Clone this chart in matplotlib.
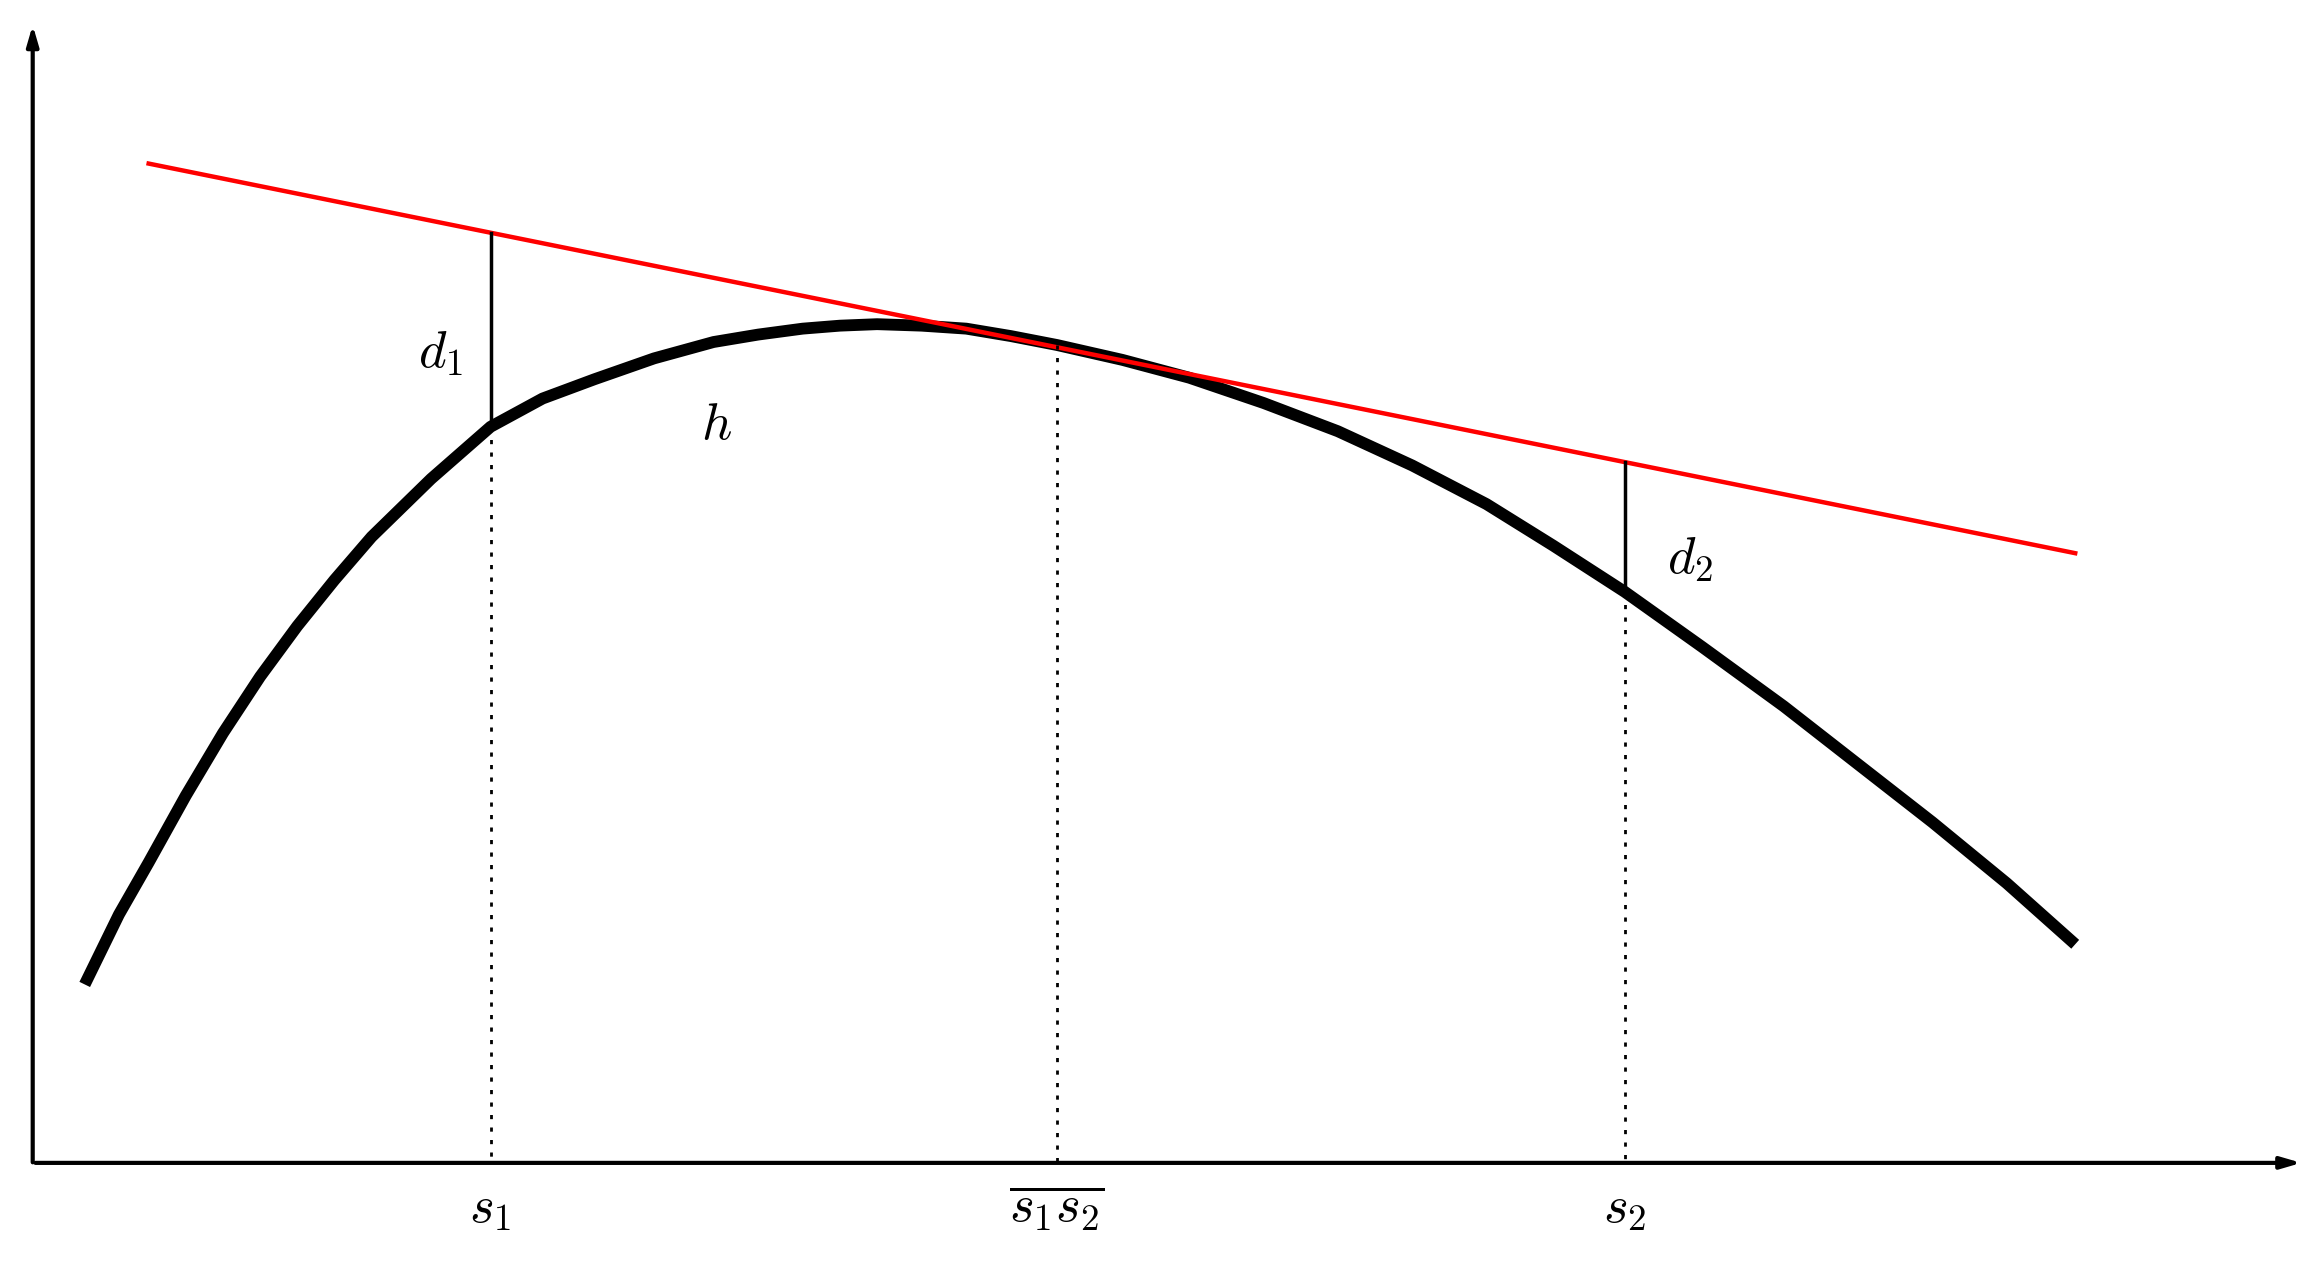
import matplotlib
matplotlib.use("Agg")
import matplotlib.pyplot as plt

plt.rcParams['mathtext.fontset'] = 'cm'

# curve h (image-pixel coordinates, y downward)
curve_x = [57, 80, 100, 125, 150, 175, 200, 225, 250, 290, 330, 365, 400, 440, 480, 510, 540, 565, 590, 620, 650, 680, 711, 755, 800, 850, 900, 950, 1000, 1045, 1093, 1145, 1200, 1250, 1300, 1350, 1396]
curve_y = [662, 615, 580, 535, 493, 455, 421, 390, 361, 322, 287, 268, 255, 241, 230, 225, 221, 219, 218, 219, 221, 226, 232, 242, 254, 271, 290, 313, 339, 367, 398, 435, 475, 514, 553, 594, 635]
# tangent line
tan_x = [100, 1396]
tan_y = [110, 372]
# points
s_x = [330, 711, 1093]
s_curve_y = [287, 232, 398]
s_labels = [r'$s_1$', r'$\overline{s_1 s_2}$', r'$s_2$']
d_x = [330, 1093]
d_top = [157, 311]
d_bot = [287, 398]
d_labels = [r'$d_1$', r'$d_2$']
d_label_pos = [(296, 237), (1137, 375)]

fig = plt.figure(figsize=(23.19, 12.64), dpi=100)
ax = fig.add_axes([0, 0, 1, 1])
ax.set_xlim(0, 1560)
ax.set_ylim(850, 0)
ax.axis('off')

ax0y = 782
ax.annotate('', xy=(1550, ax0y), xytext=(22, ax0y),
            arrowprops=dict(arrowstyle='-|>,head_length=1.2,head_width=0.35', lw=3, color='black'))
ax.annotate('', xy=(22, 15), xytext=(22, ax0y + 1.5),
            arrowprops=dict(arrowstyle='-|>,head_length=1.2,head_width=0.35', lw=3, color='black'))

ax.plot(curve_x, curve_y, color='black', lw=8.5, solid_capstyle='butt', solid_joinstyle='round')
ax.plot(tan_x, tan_y, color='#ff0000', lw=3.2)

for x, y in zip(s_x, s_curve_y):
    ax.plot([x, x], [y, ax0y], color='black', lw=2, linestyle=(0, (1.5, 3)))
for x, t, b in zip(d_x, d_top, d_bot):
    ax.plot([x, x], [t, b], color='black', lw=2.5)

for x, lab in zip(s_x, s_labels):
    ax.text(x, 812, lab, fontsize=38, ha='center', va='center')
for (x, y), lab in zip(d_label_pos, d_labels):
    ax.text(x, y, lab, fontsize=38, ha='center', va='center')
ax.text(482, 285, r'$h$', fontsize=38, ha='center', va='center')

fig.savefig('out.png', dpi=100)
